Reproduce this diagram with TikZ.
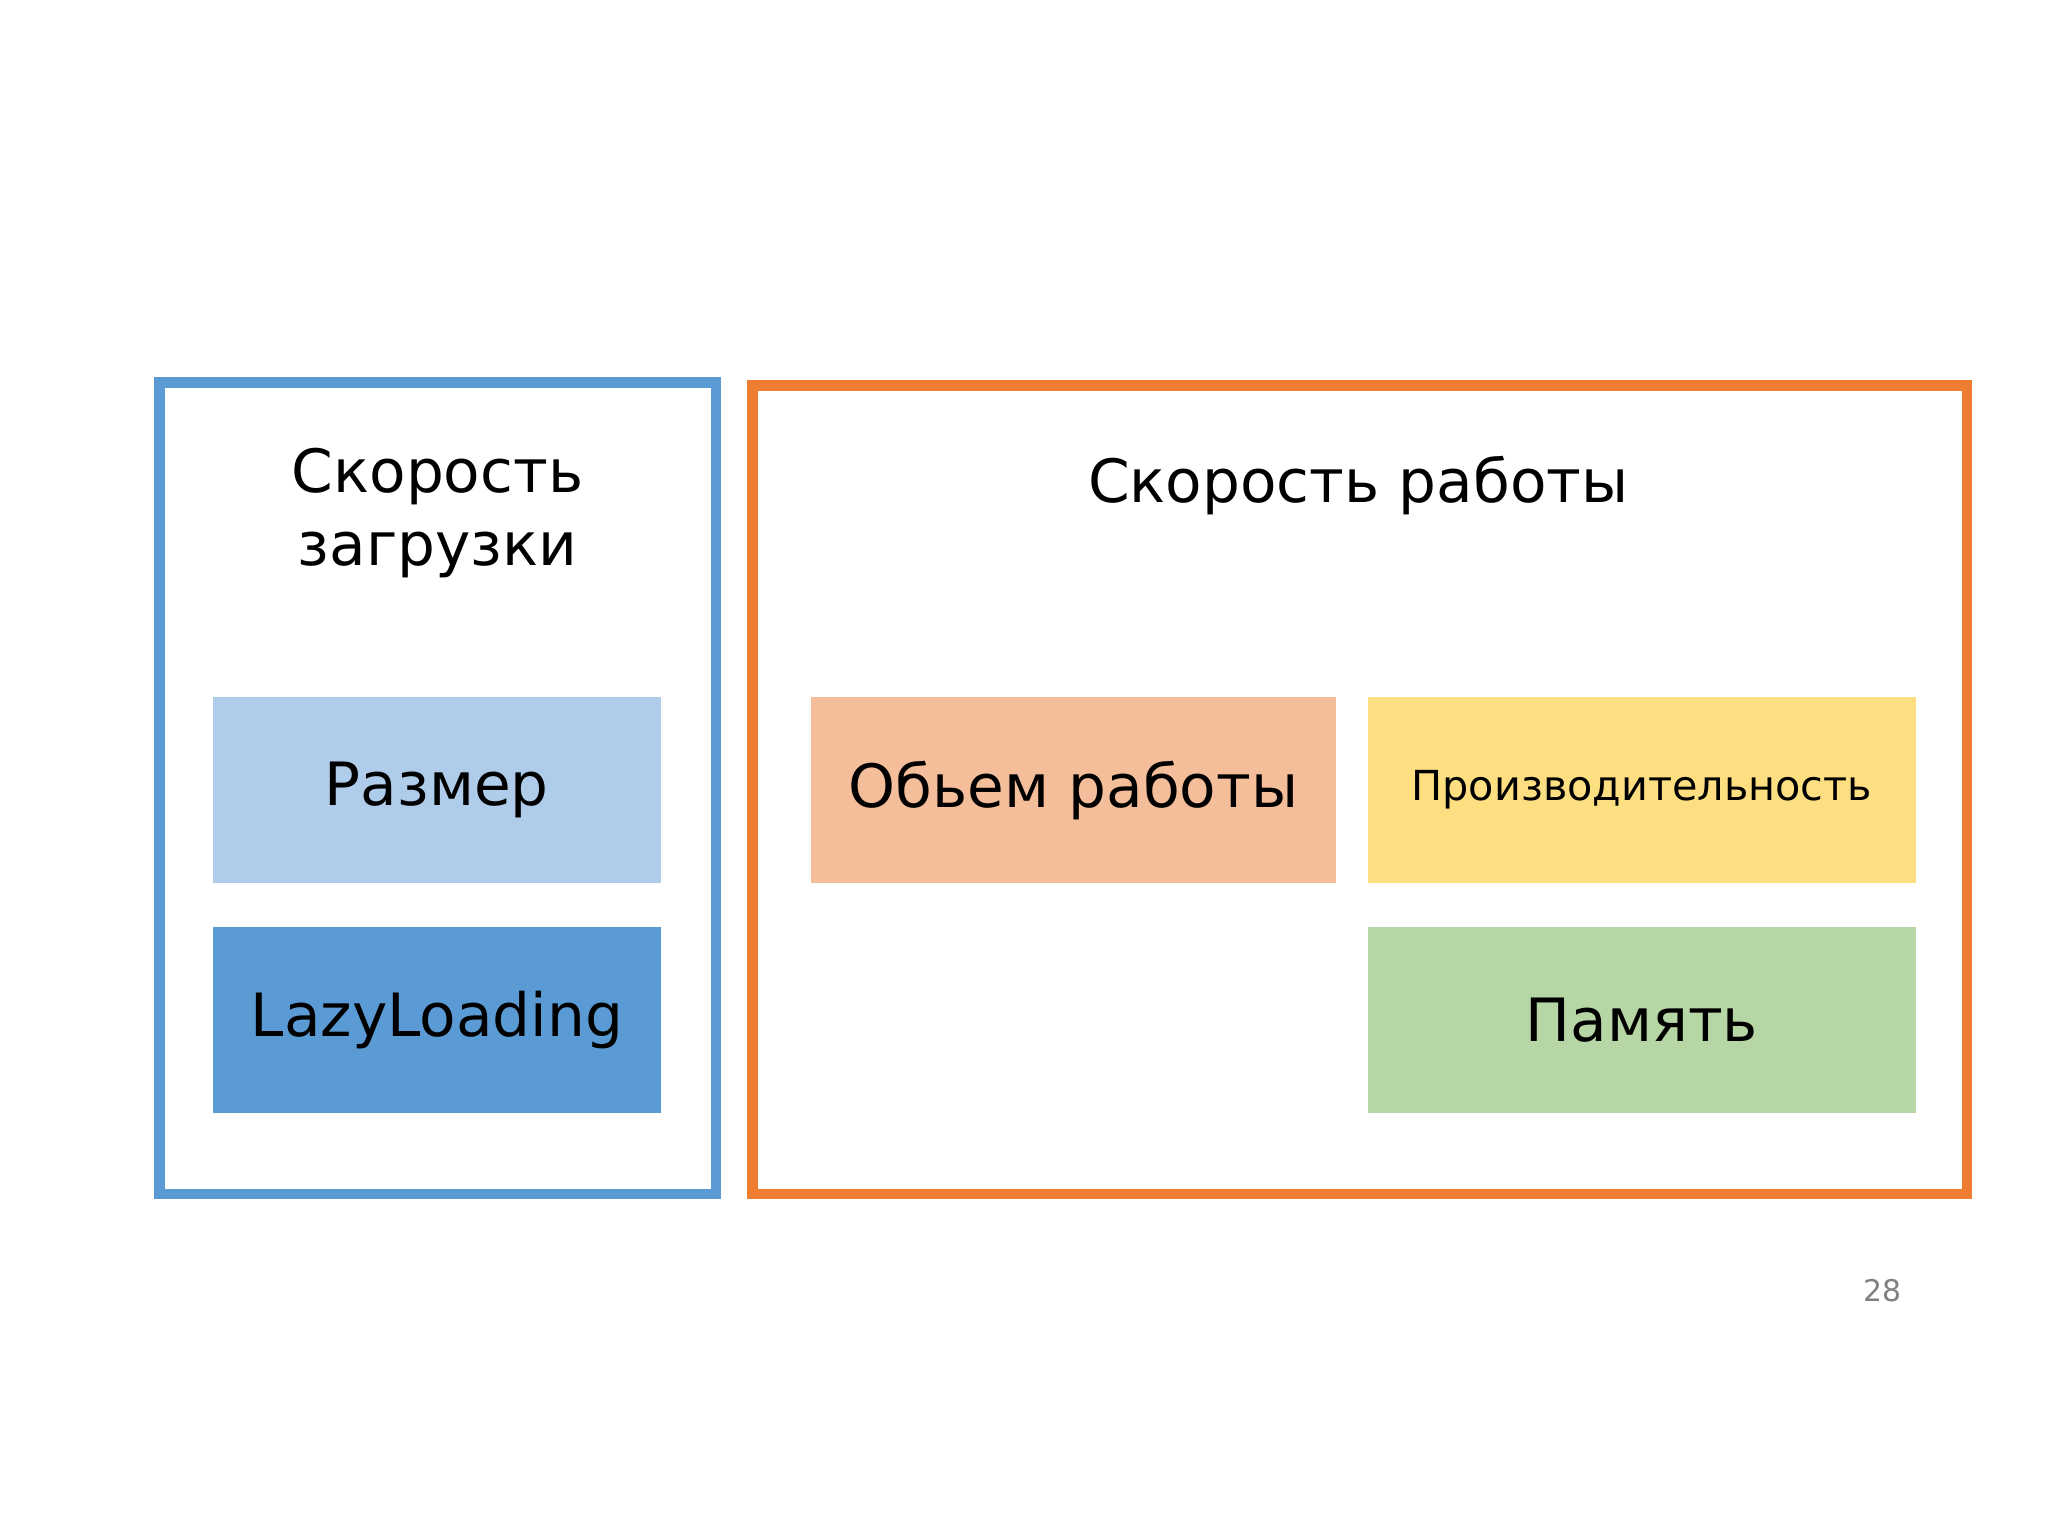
\documentclass[tikz,border=0pt]{standalone}
\usepackage{fontspec}
\setmainfont{DejaVu Sans}
\begin{document}
\begin{tikzpicture}[x=0.01cm,y=-0.01cm,
  frame/.style={line width=8*0.2845pt},
  cell/.style={draw=none,minimum width=#1*0.01cm,minimum height=142*0.01cm,inner sep=0pt},
  big/.style={font=\fontsize{13}{16}\selectfont}]
\useasboundingbox[fill=white] (0,0) rectangle (1568,1176);
\draw[frame,draw={rgb,255:red,91;green,155;blue,213}] (122,293) rectangle (548,914);
\draw[frame,draw={rgb,255:red,237;green,125;blue,49}] (576,295) rectangle (1506,914);
\node[big,align=center] (t1) at (335,393) {Скорость\\загрузки};
\node[big] (t2) at (1040,372) {Скорость работы};
\node[cell=343,fill={rgb,255:red,175;green,205;blue,234},big] (a) at (334.5,605) {Размер};
\node[cell=343,fill={rgb,255:red,91;green,155;blue,213},big] (b) at (334.5,781) {LazyLoading};
\node[cell=402,fill={rgb,255:red,244;green,190;blue,154},big] (c) at (822,605) {Обьем работы};
\node[cell=420,fill={rgb,255:red,253;green,223;blue,129},font=\fontsize{9}{11}\selectfont] (d) at (1257,605) {Производительность};
\node[cell=420,fill={rgb,255:red,183;green,214;blue,165},big] (e) at (1257,781) {Память};
\node[font=\fontsize{6.5}{8}\selectfont,text=gray] (n) at (1441,988) {28};
\end{tikzpicture}
\end{document}
